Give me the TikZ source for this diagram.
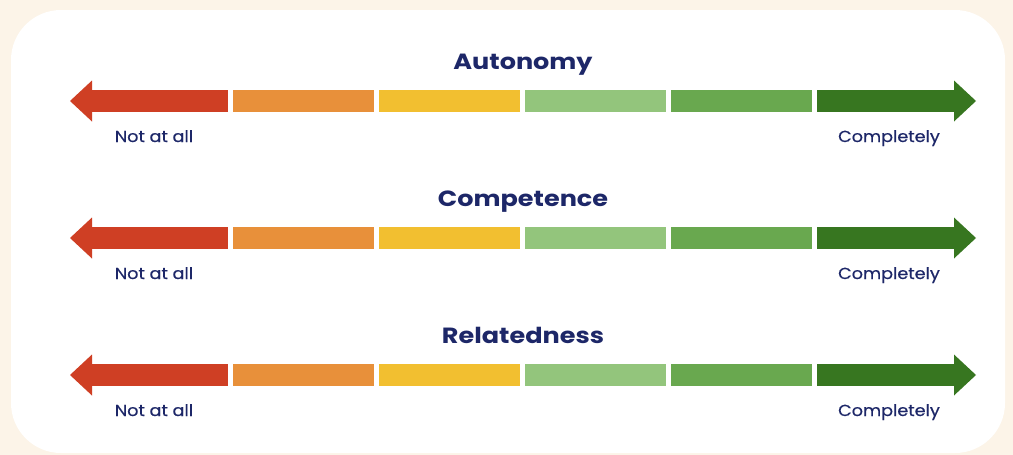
\documentclass[tikz,border=0pt]{standalone}
\usepackage{fontspec}
\setmainfont{Poppins}
\newfontfamily\titlefont{Poppins}[FakeStretch=1.16]
\newfontfamily\labelfont{Poppins}[FakeStretch=1.1, FakeBold=0.5]
\usetikzlibrary{positioning}

\definecolor{cream}{HTML}{FCF4E8}
\definecolor{navy}{HTML}{1D2768}
\definecolor{segred}{HTML}{CF3F24}
\definecolor{segorange}{HTML}{E8903A}
\definecolor{segyellow}{HTML}{F2BF30}
\definecolor{seglight}{HTML}{93C57C}
\definecolor{segmid}{HTML}{69A84F}
\definecolor{segdark}{HTML}{377620}

\tikzset{
  seg/.style={minimum width=141pt, minimum height=22pt, inner sep=0pt, outer sep=0pt},
  scaletitle/.style={text=navy, font=\titlefont\fontsize{22}{24}\selectfont\bfseries, anchor=base},
  endlabel/.style={text=navy, font=\labelfont\fontsize{16}{18}\selectfont, anchor=base}
}

\begin{document}
\begin{tikzpicture}[x=1pt, y=-1pt, node distance=5pt]

      % Card
      \fill[cream] (0,0) rectangle (1013,455);
      \fill[white, rounded corners=50pt] (11,10) rectangle (1005,453);

      % One scale per row
      \foreach \title/\r/\y in {Autonomy/a/101, Competence/c/238, Relatedness/r/375} {
        \node[scaletitle] (\r t) at (523,\y-32) {\title};

        \node[seg, fill=segred, minimum width=136pt] (\r1) at (160,\y) {};
        \node[seg, fill=segorange, right=of \r1] (\r2) {};
        \node[seg, fill=segyellow, right=of \r2] (\r3) {};
        \node[seg, fill=seglight, right=of \r3] (\r4) {};
        \node[seg, fill=segmid, right=of \r4] (\r5) {};
        \node[seg, fill=segdark, minimum width=137pt, right=of \r5] (\r6) {};

        % Arrow heads
        \fill[segred] ([yshift=9.5pt]\r1.north west) -- ([xshift=-22pt]\r1.west)
            -- ([yshift=-9.5pt]\r1.south west) -- cycle;
        \fill[segdark] ([yshift=9.5pt]\r6.north east) -- ([xshift=22pt]\r6.east)
            -- ([yshift=-9.5pt]\r6.south east) -- cycle;

        \node[endlabel] (\r lo) at (154,\y+41) {Not at all};
        \node[endlabel] (\r hi) at (889,\y+41) {Completely};
      }

    \end{tikzpicture}
\end{document}
